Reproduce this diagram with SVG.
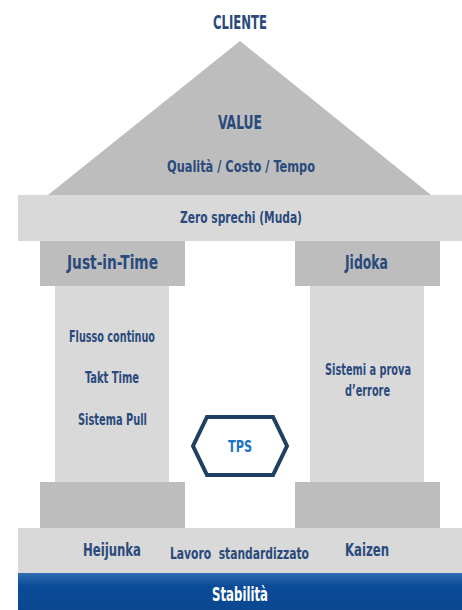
<svg xmlns="http://www.w3.org/2000/svg" width="462" height="610" viewBox="0 0 462 610">
<defs>
<linearGradient id="blue" x1="0" y1="0" x2="0" y2="1">
<stop offset="0" stop-color="#2f6db3"/>
<stop offset="0.35" stop-color="#0b4c98"/>
<stop offset="1" stop-color="#0a4790"/>
</linearGradient>
<style>
text{font-family:"DejaVu Sans Condensed","DejaVu Sans",sans-serif;font-stretch:condensed;font-weight:bold;fill:#2a4a7c;text-anchor:middle}
.dark{fill:#bdbdbd}
.light{fill:#d9d9d9}
.t19{font-size:19px}
.t18{font-size:18px}
.t17{font-size:17px}
.t16{font-size:16px}
.t15{font-size:15px}
</style>
</defs>
<rect width="462" height="610" fill="#ffffff"/>
<g id="cliente"><text class="t19" x="240" y="29" textLength="54" lengthAdjust="spacingAndGlyphs">CLIENTE</text></g>
<g id="roof">
<polygon class="dark" points="240,41 431,195 48,195"/>
<text class="t19" x="240" y="129" textLength="44" lengthAdjust="spacingAndGlyphs">VALUE</text>
<text class="t16" x="241" y="172" textLength="148" lengthAdjust="spacingAndGlyphs">Qualità / Costo / Tempo</text>
</g>
<g id="muda">
<rect class="light" x="18" y="195" width="444" height="46"/>
<text class="t16" x="241" y="223" textLength="122" lengthAdjust="spacingAndGlyphs">Zero sprechi (Muda)</text>
</g>
<g id="jit">
<rect class="dark" x="40" y="241" width="145" height="45"/>
<rect class="light" x="55" y="286" width="114" height="196"/>
<text class="t19" x="112.5" y="269" textLength="91" lengthAdjust="spacingAndGlyphs">Just-in-Time</text>
<text class="t15" x="112" y="342" textLength="86" lengthAdjust="spacingAndGlyphs">Flusso continuo</text>
<text class="t15" x="112" y="383" textLength="54" lengthAdjust="spacingAndGlyphs">Takt Time</text>
<text class="t15" x="112.5" y="425" textLength="69" lengthAdjust="spacingAndGlyphs">Sistema Pull</text>
</g>
<g id="jidoka">
<rect class="dark" x="295" y="241" width="145" height="45"/>
<rect class="light" x="310" y="286" width="114" height="196"/>
<text class="t19" x="366.5" y="269" textLength="43" lengthAdjust="spacingAndGlyphs">Jidoka</text>
<text class="t15" x="368" y="375" textLength="86" lengthAdjust="spacingAndGlyphs">Sistemi a prova</text>
<text class="t15" x="367.5" y="396" textLength="45" lengthAdjust="spacingAndGlyphs">d’errore</text>
</g>
<g id="tps">
<polygon points="193,446 207,417 273,417 287,446 273,475 207,475" fill="#ffffff" stroke="#213f63" stroke-width="4"/>
<text class="t16" x="240" y="452" textLength="24" lengthAdjust="spacingAndGlyphs" style="fill:#1b74c2">TPS</text>
</g>
<g id="plinths">
<rect class="dark" x="40" y="482" width="145" height="46"/>
<rect class="dark" x="295" y="482" width="145" height="46"/>
</g>
<g id="base">
<rect class="light" x="18" y="528" width="444" height="45"/>
<text class="t18" x="112" y="556" textLength="58" lengthAdjust="spacingAndGlyphs">Heijunka</text>
<text x="239.5" y="559" style="font-size:15px" textLength="139" lengthAdjust="spacingAndGlyphs" xml:space="preserve">Lavoro  standardizzato</text>
<text class="t17" x="367" y="556" textLength="44" lengthAdjust="spacingAndGlyphs">Kaizen</text>
</g>
<g id="stabilita">
<rect x="18" y="573" width="444" height="37" fill="url(#blue)"/>
<text class="t19" x="240" y="601" textLength="56" lengthAdjust="spacingAndGlyphs" style="fill:#ffffff">Stabilità</text>
</g>
<g id="connectors"/>
</svg>
